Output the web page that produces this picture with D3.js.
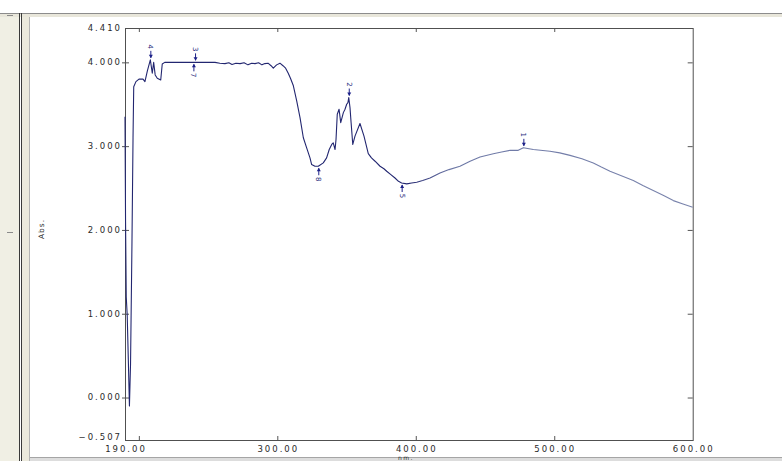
<!DOCTYPE html>
<html>
<head>
<meta charset="utf-8">
<script src="https://cdn.jsdelivr.net/npm/d3@7"></script>
<style>
  html, body {margin:0; padding:0; background:#fff;}
  svg {display:block;}
  text {font-family:"DejaVu Sans", sans-serif;}
</style>
</head>
<body>
<script>

// spectrum
let wavelength = [190.0,190.4,190.9,191.6,192.4,193.2,194.0,195.0,195.8,196.3,197.9,200.1,203.0,204.4,206.2,208.3,209.7,210.7,211.8,213.3,215.8,216.9,218.7,
  240.6,255.0,258.5,262.2,265.0,267.3,270.1,273.1,276.0,278.8,281.5,283.9,286.5,288.9,291.0,293.3,295.5,297.1,299.5,301.9,304.1,306.0,307.9,309.5,311.6,
  314.0,316.4,318.8,321.2,323.6,324.8,327.2,329.6,333.2,335.6,337.5,339.3,340.4,341.7,342.4,343.3,344.6,345.8,347.7,348.9,350.1,351.0,351.6,352.5,353.3,
  354.5,356.1,359.7,362.6,365.7,368.0,370.6,374.2,377.0,379.0,382.0,385.0,387.5,389.8,393.5,397.0,400.7,405.0,410.3,417.5,424.0,431.9,439.2,446.4,456.0,
  462.0,468.1,474.0,477.7,484.9,496.9,504.0,511.4,520.0,528.2,534.0,540.3,548.0,557.1,564.0,571.5,579.0,586.0,593.0,600.0]
let absorbance = [3.35,2.10,1.20,0.98,0.45,-0.10,0.40,1.80,3.10,3.71,3.77,3.80,3.80,3.77,3.90,4.03,3.87,4.00,3.85,3.81,3.79,3.98,4.00,
  4.00,4.00,3.99,3.985,3.995,3.975,3.99,3.985,3.995,3.97,3.99,3.985,3.995,3.97,3.985,3.99,3.96,3.93,3.97,3.99,3.96,3.93,3.87,3.81,3.72,
  3.54,3.34,3.10,2.98,2.86,2.78,2.76,2.76,2.80,2.86,2.96,3.02,3.04,2.96,3.08,3.38,3.44,3.28,3.40,3.44,3.50,3.52,3.58,3.46,3.28,
  3.02,3.12,3.27,3.12,2.91,2.86,2.82,2.76,2.73,2.70,2.66,2.62,2.58,2.56,2.55,2.56,2.57,2.59,2.62,2.68,2.72,2.76,2.82,2.87,2.91,
  2.93,2.95,2.95,2.98,2.96,2.94,2.92,2.89,2.85,2.80,2.75,2.70,2.65,2.59,2.53,2.47,2.41,2.35,2.31,2.27]

// peak / valley picks
let pickLabel = ["1","2","3","4","5","7","8"]
let pickNm = [477.7,351.6,240.6,208.3,389.8,239.4,329.6]
let pickAbs = [2.98,3.58,4.00,4.03,2.56,4.00,2.76]
let pickKind = ["peak","peak","peak","peak","valley","valley","valley"]

let xTicks = [200,300,400,500]
let yTicks = [0,1,2,3,4]
let xLabels = [190,300,400,500,600]
let yLabels = [-0.507,0,1,2,3,4,4.410]

const W = 782, H = 461
const frame = {left:125, right:692.7, top:28, bottom:440}

const visualConfig = {
  curve:{
    "fill":"none"
    ,"stroke":"url(#curveGrad)"
    ,"stroke-width":1.1
    ,"stroke-linejoin":"round"
  },
  tickText:{
    "font-size":"8.5px"
    ,"letter-spacing":"2px"
    ,"fill":"#2a2a2a"
  },
  pick:{
    stroke:"#1c2088",
    fill:"#1c2088"
  }
}

/**
  apply same-name properties from a config object to a d3 selection
*/
function samesies(selection, configObject){
  for(var k in configObject){
    selection.attr(k, configObject[k])
  }
  return selection
}

function chrome(svg){
  svg.append("rect").attr("width",W).attr("height",H).attr("fill","#fff")
  // top band
  svg.append("rect").attr("x",0).attr("y",13).attr("width",W).attr("height",4).attr("fill","#e8e6da")
  svg.append("line").attr("x1",0).attr("x2",W).attr("y1",13.5).attr("y2",13.5).attr("stroke","#8c8c8c")
  // left panel
  svg.append("rect").attr("x",0).attr("y",17).attr("width",19).attr("height",H-17).attr("fill","#f0efe4")
  svg.append("rect").attr("x",22).attr("y",17).attr("width",8).attr("height",H-17).attr("fill","#ebe9dc")
  svg.append("line").attr("x1",19.5).attr("x2",19.5).attr("y1",13).attr("y2",H).attr("stroke","#3a3a3a")
  svg.append("line").attr("x1",21.5).attr("x2",21.5).attr("y1",13).attr("y2",H).attr("stroke","#3a3a3a")
  svg.append("line").attr("x1",29.5).attr("x2",29.5).attr("y1",17).attr("y2",H).attr("stroke","#b4b4b4")
  svg.append("line").attr("x1",7).attr("x2",13).attr("y1",232.5).attr("y2",232.5).attr("stroke","#8a8a8a")
  svg.append("line").attr("x1",7).attr("x2",13).attr("y1",15.5).attr("y2",15.5).attr("stroke","#8a8a8a")
  // bottom band
  svg.append("rect").attr("x",30).attr("y",458).attr("width",W-30).attr("height",3).attr("fill","#dddddd")
  svg.append("line").attr("x1",30).attr("x2",W).attr("y1",457.5).attr("y2",457.5).attr("stroke","#a5a5a5")
}

function draw(){
  let svg = d3.select("body").append("svg").attr("width",W).attr("height",H)
  chrome(svg)

  let x = d3.scaleLinear().domain([190,600]).range([frame.left, frame.right])
  let y = d3.scaleLinear().domain([-0.507,4.410]).range([frame.bottom, frame.top])

  // gradient: line looks dark on the left, greyer on the smooth right part
  let grad = svg.append("defs").append("linearGradient")
    .attr("id","curveGrad").attr("gradientUnits","userSpaceOnUse")
    .attr("x1",x(190)).attr("x2",x(600)).attr("y1",0).attr("y2",0)
  grad.append("stop").attr("offset",(x(395)-x(190))/(x(600)-x(190))).attr("stop-color","#222670")
  grad.append("stop").attr("offset",(x(425)-x(190))/(x(600)-x(190))).attr("stop-color","#6d78a6")
  grad.append("stop").attr("offset",1).attr("stop-color","#7a84ac")

  // ticks
  let axes = svg.append("g").attr("stroke-width",1)
  axes.append("g").attr("transform",`translate(0,${frame.bottom})`)
    .call(d3.axisTop(x).tickValues(xTicks).tickSize(4).tickFormat(""))
  axes.append("g").attr("transform",`translate(0,${frame.top})`)
    .call(d3.axisBottom(x).tickValues(xTicks).tickSize(4).tickFormat(""))
  axes.append("g").attr("transform",`translate(${frame.left-3},0)`)
    .call(d3.axisRight(y).tickValues(yTicks).tickSize(7).tickFormat(""))
  axes.append("g").attr("transform",`translate(${frame.right},0)`)
    .call(d3.axisLeft(y).tickValues(yTicks).tickSize(5).tickFormat(""))
  axes.selectAll(".domain").remove()
  axes.selectAll(".tick line").attr("stroke","#555")

  // frame
  svg.append("rect")
    .attr("x",frame.left+0.5).attr("y",frame.top+0.5)
    .attr("width",frame.right-frame.left).attr("height",frame.bottom-frame.top)
    .attr("fill","none").attr("stroke","#505050")

  // labels (the bottom corner one sits a touch higher so it clears 190.00)
  let fy = d3.format(".3f"), fx = d3.format(".2f")
  samesies(svg.append("g").selectAll("text").data(yLabels).join("text"), visualConfig.tickText)
    .attr("x",frame.left-3).attr("y",d=>y(d)-(d<0?2.5:0)).attr("dy","0.35em")
    .attr("text-anchor","end").text(d=>fy(d))
  samesies(svg.append("g").selectAll("text").data(xLabels).join("text"), visualConfig.tickText)
    .attr("x",d=>x(d)+1).attr("y",451.5)
    .attr("text-anchor","middle").text(d=>fx(d))

  samesies(svg.append("text"), visualConfig.tickText)
    .attr("transform","translate(44,229) rotate(-90)")
    .attr("text-anchor","middle").attr("letter-spacing","1px").attr("font-size","7.5px")
    .text("Abs.")
  samesies(svg.append("text"), visualConfig.tickText)
    .attr("x",406).attr("y",460).attr("text-anchor","middle").attr("letter-spacing","1.5px")
    .attr("font-size","6px")
    .text("nm.")

  // spectrum
  let pts = wavelength.map((w,i)=>({x:w, y:absorbance[i]}))
  let line = d3.line().x(d=>x(d.x)).y(d=>y(d.y))
  samesies(svg.append("path").datum(pts).attr("d",line), visualConfig.curve)

  // pick markers
  let picks = pickLabel.map((l,i)=>({label:l, x:pickNm[i], y:pickAbs[i], kind:pickKind[i]}))
  let pg = svg.append("g").selectAll("g").data(picks).join("g")
    .attr("transform",d=>`translate(${x(d.x)},${y(d.y)})`)
  pg.append("line")
    .attr("x1",0.5).attr("x2",0.5)
    .attr("y1",d=>d.kind=="peak"?-9:9).attr("y2",d=>d.kind=="peak"?-2:2)
    .attr("stroke",visualConfig.pick.stroke)
  pg.append("path")
    .attr("d",d=>d.kind=="peak"?"M-1.5,-5L2.5,-5L0.5,-1.5Z":"M-1.5,5L2.5,5L0.5,1.5Z")
    .attr("fill",visualConfig.pick.fill)
  pg.append("text")
    .attr("transform",d=>`translate(0.5,${d.kind=="peak"?-13:13}) rotate(90)`)
    .attr("text-anchor","middle").attr("dy","0.35em")
    .attr("font-size","7px").attr("fill","#2a2e80")
    .text(d=>d.label)
}

draw()
</script>
</body>
</html>
